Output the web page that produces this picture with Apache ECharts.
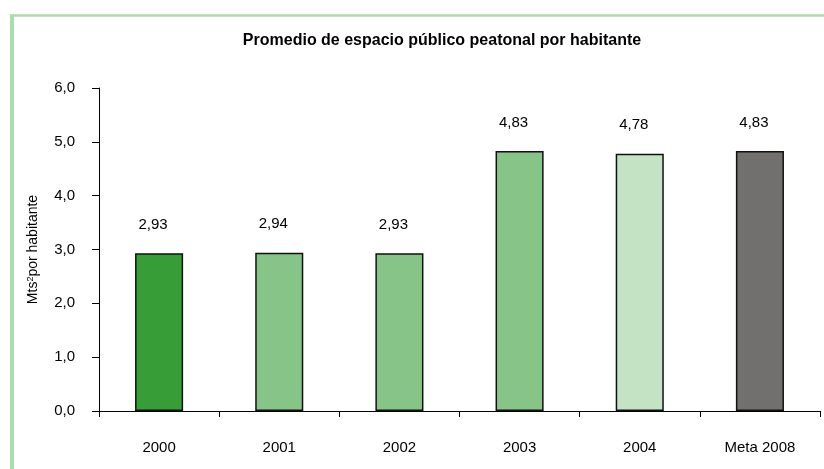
<!DOCTYPE html>
<html><head><meta charset="utf-8">
<script src="https://cdn.jsdelivr.net/npm/echarts@6/dist/echarts.min.js"></script>
<style>html,body{margin:0;padding:0;background:#fff}#c{width:824px;height:469px}</style>
</head><body><div id="c"></div>
<script>
const categories = ['2000', '2001', '2002', '2003', '2004', 'Meta 2008'];
const values = [2.93, 2.94, 2.93, 4.83, 4.78, 4.83];
const barColors = ['#379e37', '#86c487', '#86c487', '#86c487', '#c4e3c4', '#72706e'];
const yTicks = [0, 1, 2, 3, 4, 5, 6];
const FONT = '"Liberation Sans Narrow", "Arial Narrow", "Liberation Sans", Arial, sans-serif';
const fmt = v => v.toFixed(2).replace('.', ',');
const chart = echarts.init(document.getElementById('c'), null, {renderer: 'canvas'});
chart.setOption({
  animation: false,
  backgroundColor: '#fff',
  graphic: [
    {type: 'line', z: -10, shape: {x1: 10, y1: 15.5, x2: 824, y2: 15.5},
     style: {stroke: '#acdcac', lineWidth: 2.5}},
    {type: 'line', z: -10, shape: {x1: 12, y1: 14.5, x2: 12, y2: 469},
     style: {stroke: '#acdcac', lineWidth: 4}}
  ],
  title: {
    text: 'Promedio de espacio público peatonal por habitante',
    left: 437, top: 28, textAlign: 'center',
    textStyle: {fontFamily: FONT, fontSize: 16, fontWeight: 'bold', color: '#000'}
  },
  grid: {left: 99, right: 4, top: 88, bottom: 58, containLabel: false},
  xAxis: {
    type: 'category', data: categories,
    axisLine: {lineStyle: {color: '#000', width: 1}},
    axisTick: {show: true, alignWithLabel: false, length: 6, lineStyle: {color: '#000'}},
    axisLabel: {fontFamily: FONT, fontSize: 15, color: '#000', margin: 29}
  },
  yAxis: {
    type: 'value', min: yTicks[0], max: yTicks[yTicks.length - 1], interval: 1,
    axisLine: {show: true, lineStyle: {color: '#000', width: 1}},
    axisTick: {show: true, inside: false, length: 7, lineStyle: {color: '#000'}},
    splitLine: {show: false},
    axisLabel: {fontFamily: FONT, fontSize: 15, color: '#000', margin: 24,
      formatter: v => v.toFixed(1).replace('.', ',')},
    name: '{a|Mts}{sup|2}{a|por habitante}',
    nameLocation: 'middle', nameGap: 58, nameRotate: 90,
    nameTextStyle: {
      rich: {
        a: {fontFamily: FONT, fontSize: 14, color: '#000'},
        sup: {fontFamily: FONT, fontSize: 9, color: '#000', verticalAlign: 'top', padding: [0, 0, 6, 0]}
      }
    }
  },
  series: [{
    type: 'bar',
    barWidth: '40%',
    data: values.map((v, i) => ({value: v, itemStyle: {color: barColors[i]}})),
    itemStyle: {borderColor: '#111', borderWidth: 1.5},
    label: {
      show: true, position: 'top', distance: 21, offset: [-6, 0],
      fontFamily: FONT, fontSize: 15, color: '#000',
      formatter: p => fmt(p.value)
    }
  }]
});
</script></body></html>
